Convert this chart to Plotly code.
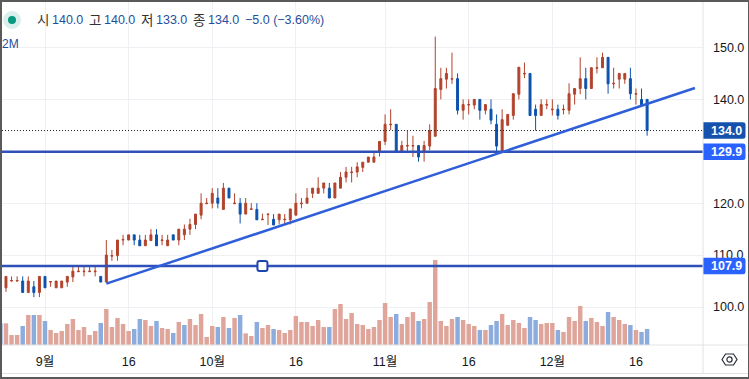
import pandas as pd
import plotly.graph_objects as go

first_day = "2024-08-24"

opens = [105.9,103.7,105.0,105.0,105.0,102.8,103.9,102.8,
 105.9,104.8,103.7,103.7,104.8,105.8,106.8,106.8,106.8,106.8,105.9,104.8,109.8,109.9,112.9,112.9,113.9,112.9,111.8,112.8,113.9,112.8,111.8,113.9,112.9,113.9,115.0,115.9,117.7,119.9,
 120.0,121.0,118.8,122.9,119.9,120.0,117.9,118.8,118.8,116.8,117.8,116.9,116.8,116.8,116.8,117.7,119.9,120.0,121.9,121.9,122.9,122.9,121.0,122.9,125.0,125.9,126.0,126.9,127.9,127.9,129.9,
 131.9,135.1,135.2,130.0,131.0,131.0,131.1,130.0,131.0,132.9,141.9,143.9,143.9,144.0,137.9,138.9,138.9,140.0,137.9,138.1,135.2,130.0,135.0,136.9,141.0,144.9,145.0,138.1,136.9,138.9,
 138.0,138.1,138.0,137.9,141.0,142.1,144.0,142.1,146.0,146.1,148.1,143.0,143.9,143.9,144.0,141.0,140.0,140.0]
highs = [105.9,105.9,105.9,105.9,105.9,105.9,105.0,105.9,
 105.9,104.9,105.0,105.0,105.9,107.9,107.9,107.9,107.9,107.9,105.9,112.9,111.0,112.9,113.9,113.9,113.9,113.9,113.9,115.0,115.0,113.9,113.9,113.9,115.0,115.9,117.0,117.9,121.9,121.0,
 122.9,122.9,123.9,122.9,121.9,121.0,121.0,120.0,120.0,118.0,117.9,117.9,117.9,117.9,118.9,121.9,121.0,122.9,122.9,125.0,123.9,123.9,123.9,126.0,127.0,127.0,127.9,127.9,128.9,130.0,131.9,
 137.1,138.1,135.2,132.0,134.0,133.0,131.1,132.0,135.2,152.1,146.1,146.1,149.0,145.0,140.0,140.0,140.0,140.0,139.0,140.0,137.1,138.1,137.1,141.1,146.2,147.1,145.0,139.0,140.0,140.0,
 140.0,139.0,139.0,143.1,142.1,148.1,146.1,146.1,148.1,149.0,148.1,146.1,145.0,145.0,146.1,142.1,142.1,140.0]
lows = [103.0,102.9,104.9,104.9,102.8,102.8,101.9,101.9,
 103.7,103.9,103.7,103.7,103.9,104.8,106.8,105.9,106.8,105.9,104.8,104.8,108.9,108.9,111.9,112.9,111.9,111.8,111.8,112.8,111.8,111.9,111.8,112.9,111.9,112.9,113.9,115.0,116.9,119.9,
 119.0,119.0,118.8,121.0,119.9,116.1,117.9,118.8,116.8,116.8,115.8,115.8,115.9,115.8,115.9,117.7,119.0,120.0,121.0,121.9,121.9,121.0,121.0,122.9,124.0,124.0,125.0,126.0,127.9,127.9,129.0,
 131.2,134.1,130.0,130.0,130.0,128.9,128.0,128.0,130.2,132.9,140.0,142.1,143.0,137.1,136.1,137.1,138.1,136.1,137.1,135.2,130.0,130.0,135.0,136.1,140.0,144.1,136.9,134.0,136.9,138.1,
 136.9,136.1,137.1,137.1,139.0,141.0,140.0,142.1,145.0,146.1,141.1,142.1,142.1,143.0,140.0,139.0,138.8,133.0]
closes = [103.7,105.9,105.1,105.1,102.8,105.0,102.8,105.9,
 103.7,104.9,105.0,105.0,105.9,106.9,106.9,106.9,106.9,106.9,104.8,110.0,109.9,112.9,113.0,113.9,112.9,111.8,112.9,113.9,111.8,112.9,112.9,112.9,115.0,115.0,115.9,117.9,120.0,120.0,
 121.9,120.0,122.9,121.0,120.0,117.9,120.0,118.9,116.8,116.9,117.9,115.8,117.9,116.9,118.9,120.0,120.0,121.0,122.9,122.9,123.9,121.0,123.9,125.0,126.0,126.0,127.0,127.9,128.9,128.9,131.9,
 135.2,135.2,130.0,131.1,131.1,131.1,128.9,131.1,134.0,142.1,144.0,145.0,144.0,137.9,139.0,139.0,140.0,137.9,139.0,136.0,131.0,136.1,137.1,141.1,146.2,145.0,136.9,136.9,139.0,139.0,
 138.1,136.9,138.1,141.1,142.1,144.0,142.1,146.1,146.1,148.1,143.0,143.1,145.0,145.0,141.1,141.1,138.8,134.0]
volumes_m = [2.71,2.71,1.25,1.25,2.38,3.75,3.75,3.75,
 3.0,1.88,1.5,1.75,2.63,3.25,1.88,2.25,1.25,1.75,2.75,4.5,2.25,3.38,2.63,1.75,2.0,3.25,3.13,2.38,3.0,2.13,2.0,1.5,2.88,2.5,3.25,2.5,3.88,1.0,
 2.38,2.25,3.5,2.13,3.38,3.75,1.46,1.13,2.88,2.13,2.5,2.0,1.88,1.5,1.88,3.63,2.88,2.88,2.38,3.13,2.25,2.25,4.5,5.13,3.25,4.0,2.63,2.5,2.0,2.25,3.13,
 5.25,3.5,3.88,2.63,3.5,4.13,3.0,3.25,5.38,10.63,3.0,2.38,3.25,3.5,3.13,2.63,2.38,1.88,1.88,2.5,3.0,3.88,2.5,3.13,2.75,2.13,3.5,3.13,2.63,2.75,
 2.75,1.88,1.63,3.5,3.0,4.88,3.0,3.38,2.88,2.38,4.13,3.5,3.13,2.63,2.5,1.88,1.63,2.0]
vol_falling_extra = ["2024-09-26"]

tick_dates = ["2024-09-01","2024-09-16","2024-10-01","2024-10-16","2024-11-01","2024-11-16","2024-12-01","2024-12-16"]
tick_labels = ["9월","16","10월","16","11월","16","12월","16"]
price_ticks = [100,110,120,140,150]

legend_pairs = [("시",37,"140.0",51.5),("고",89,"140.0",103.5),("저",141,"133.0",155.5),("종",193,"134.0",207.5)]
legend_change = "−5.0 (−3.60%)"
legend_volume = "2M"

last_price = 134.0
level_upper = 129.9
level_lower = 107.9
trend_start = ("2024-09-12", 104.5)
trend_end = ("2024-12-26 14:00", 142.2)
handle_date = "2024-10-10"

RED, BLUE = "#b2432c", "#0d52ad"
VOL_RED, VOL_BLUE = "#dfa59a", "#8bacdc"
LINE = "#2f50b8"
LABEL = "#2962ff"
TEXTBLUE = "#1f4f9c"
GRID = "#eff0f3"
AXIS = "#e0e2e6"
DARK = "#5a5a5a"
FONT = "Liberation Sans, Noto Sans CJK KR, sans-serif"

L, R, T, B = 2, 703, 2, 345
W, H = 749, 379
fx = lambda px: (px - L) / (R - L)
fy = lambda py: (B - py) / (B - T)

dates = pd.date_range(first_day, periods=len(opens)).strftime("%Y-%m-%d").tolist()
falling = [c < o or d in vol_falling_extra for o, c, d in zip(opens, closes, dates)]
vol_colors = [VOL_BLUE if f else VOL_RED for f in falling]

fig = go.Figure()
fig.add_trace(go.Bar(x=dates, y=volumes_m, yaxis="y2", marker=dict(color=vol_colors, line=dict(width=0)),
                     showlegend=False, hoverinfo="skip"))
fig.add_trace(go.Candlestick(x=dates, open=opens, high=highs, low=lows, close=closes, showlegend=False,
                             whiskerwidth=0,
                             increasing=dict(line=dict(color=RED, width=1), fillcolor=RED),
                             decreasing=dict(line=dict(color=BLUE, width=1), fillcolor=BLUE)))

shapes = []
def px_rect(x0, y0, x1, y1, **kw):
    shapes.append(dict(type="rect", xref="paper", yref="paper", x0=fx(x0), x1=fx(x1), y0=fy(y0), y1=fy(y1), layer="above", **kw))

# price levels and trend line
shapes.append(dict(type="line", xref="paper", x0=0, x1=1, yref="y", y0=last_price, y1=last_price,
                   line=dict(color="#222222", width=1, dash="1px,2px")))
for lv in (level_upper, level_lower):
    shapes.append(dict(type="line", xref="paper", x0=0, x1=1, yref="y", y0=lv, y1=lv, line=dict(color=LINE, width=2.4)))
shapes.append(dict(type="line", xref="x", yref="y", x0=trend_start[0], y0=trend_start[1], x1=trend_end[0], y1=trend_end[1],
                   line=dict(color="#2f5fd8", width=2.5)))
# handle on the lower level
shapes.append(dict(type="path", xref="x", yref="y", xsizemode="pixel", ysizemode="pixel",
                   xanchor=handle_date, yanchor=level_lower,
                   path="M-3,-5 L3,-5 Q5,-5 5,-3 L5,3 Q5,5 3,5 L-3,5 Q-5,5 -5,3 L-5,-3 Q-5,-5 -3,-5 Z",
                   fillcolor="white", line=dict(color="#1d45b0", width=2)))
# price labels on the axis
def price_label(price, color, txt):
    shapes.append(dict(type="path", xref="paper", yref="y", xsizemode="pixel", ysizemode="pixel",
                       xanchor=1, yanchor=price,
                       path="M0,-8.3 L40,-8.3 Q42.5,-8.3 42.5,-6 L42.5,6 Q42.5,8.3 40,8.3 L0,8.3 Z",
                       fillcolor=color, line=dict(width=0)))
    return dict(xref="paper", yref="y", x=fx(711), y=price, text=txt, showarrow=False, xanchor="left", yanchor="middle",
                borderpad=0, borderwidth=0, font=dict(color="white", size=12.5, family=FONT, weight="bold"))

annotations = [price_label(last_price, "#1452ad", f"{last_price:.1f}"),
               price_label(level_upper, LABEL, f"{level_upper:.1f}"),
               price_label(level_lower, LABEL, f"{level_lower:.1f}")]

# legend dot
def circle(cx, cy, r, **kw):
    shapes.append(dict(type="circle", xref="paper", yref="paper", x0=fx(cx - r), x1=fx(cx + r), y0=fy(cy + r), y1=fy(cy - r),
                       layer="above", **kw))
circle(12, 20, 9, fillcolor="#d9efec", line=dict(width=0))
circle(12, 20, 4, fillcolor="#089981", line=dict(width=0))

def txt(px, py, s, color, size=12.5):
    annotations.append(dict(xref="paper", yref="paper", x=fx(px), y=fy(py), text=s, showarrow=False, xanchor="left", yanchor="middle",
                            borderpad=0, borderwidth=0, font=dict(color=color, size=size, family=FONT)))
for lab, lx, val, vx in legend_pairs:
    txt(lx, 20, lab, "#333333", 13.5)
    txt(vx, 20, val, TEXTBLUE)
txt(245, 20, legend_change, TEXTBLUE)
txt(2, 44, legend_volume, TEXTBLUE, 12)

# frame
px_rect(0, 0, W, 2, fillcolor=DARK, line=dict(width=0))
px_rect(0, 0, 2, H, fillcolor=DARK, line=dict(width=0))
px_rect(0, 377, W, H, fillcolor=DARK, line=dict(width=0))
px_rect(748, 0, W, H, fillcolor=DARK, line=dict(width=0))
shapes.append(dict(type="line", xref="paper", yref="paper", x0=fx(2), x1=fx(748), y0=fy(373.5), y1=fy(373.5), line=dict(color=AXIS, width=1), layer="above"))
shapes.append(dict(type="line", xref="paper", yref="paper", x0=fx(703), x1=fx(703), y0=fy(2), y1=fy(373.5), line=dict(color=AXIS, width=1), layer="above"))
shapes.append(dict(type="line", xref="paper", yref="paper", x0=fx(2), x1=fx(748), y0=fy(345), y1=fy(345), line=dict(color=AXIS, width=1), layer="above"))
# settings icon
hex_pts = [(722, 359.5), (725.5, 354), (733.5, 354), (737, 359.5), (733.5, 365), (725.5, 365)]
shapes.append(dict(type="path", xref="paper", yref="paper", layer="above",
                   path="M" + " L".join(f"{fx(a):.5f},{fy(b):.5f}" for a, b in hex_pts) + " Z",
                   line=dict(color="#2a2e39", width=1.2)))
circle(729.5, 359.5, 2.6, line=dict(color="#2a2e39", width=1.2))

t0 = pd.Timestamp(tick_dates[0])
px_per_day = 5.575
x_range = [t0 + pd.Timedelta(days=(L - 45) / px_per_day), t0 + pd.Timedelta(days=(R - 45) / px_per_day)]
y_per_px = 1 / 5.19
y_range = [100 - (B - 307) * y_per_px, 100 + (307 - T) * y_per_px]
vol_top = (B - T) * 0.125

fig.update_layout(
    width=W, height=H, margin=dict(l=L, r=W - R, t=T, b=H - B),
    paper_bgcolor="white", plot_bgcolor="white",
    font=dict(family=FONT, color="#131722", size=12),
    showlegend=False, bargap=0.2, boxgap=0.5, hovermode=False,
    xaxis=dict(type="date", range=x_range, tickmode="array", tickvals=tick_dates, ticktext=tick_labels,
               showgrid=True, gridcolor=GRID, gridwidth=1, zeroline=False, showline=False, ticks="",
               ticklabelstandoff=7, rangeslider=dict(visible=False), tickfont=dict(size=12.5, color="#131722"), fixedrange=True),
    yaxis=dict(side="right", range=y_range, tickmode="array", tickvals=price_ticks, tickformat=".1f",
               showgrid=True, gridcolor=GRID, gridwidth=1, zeroline=False, showline=False, ticks="",
               ticklabelstandoff=9, tickfont=dict(size=12.5, color="#131722"), fixedrange=True),
    yaxis2=dict(overlaying="y", range=[0, vol_top], visible=False, fixedrange=True),
    shapes=shapes, annotations=annotations,
)
fig.write_html("out.html", config=dict(displayModeBar=False), post_script="document.body.style.margin='0';")
